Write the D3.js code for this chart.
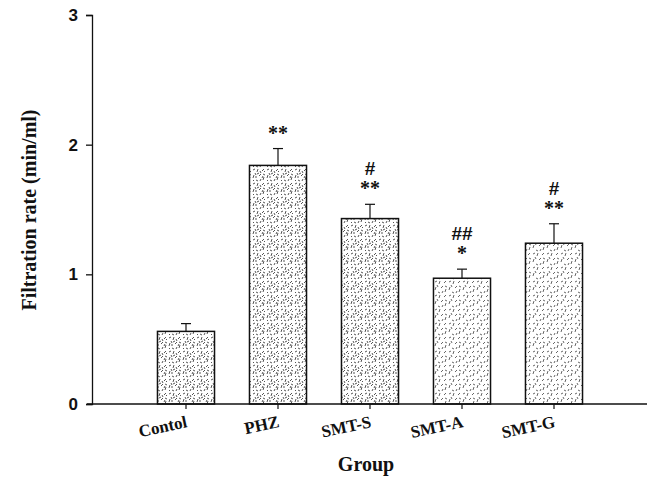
<!DOCTYPE html>
<html>
<head>
<meta charset="utf-8">
<script src="https://cdn.jsdelivr.net/npm/d3@7"></script>
<style>
  body { margin: 0; background: #fff; }
</style>
</head>
<body>
<div class="chart"></div>
<script>
const groups = ["Contol", "PHZ", "SMT-S", "SMT-A", "SMT-G"];
const means = [0.56, 1.84, 1.43, 0.97, 1.24];
const errors = [0.06, 0.13, 0.11, 0.07, 0.15];
const stars = ["", "**", "**", "*", "**"];
const hashes = ["", "", "#", "##", "#"];
const dense = [true, true, true, false, false];
const yTicks = [0, 1, 2, 3];

const width = 654, height = 479;
const svg = d3.select(".chart").append("svg")
    .attr("width", width)
    .attr("height", height);

// stipple textures
const defs = svg.append("defs");
const dashes = [[1,2,3,1],[6,1,5,4],[10,3,12,1],[2,7,1,10],[7,8,9,6],[12,9,11,12],[4,12,6,13],[9,11,8,13],[3,5,4,7],[11,6,13,7]];
const extra = [[5,6,7,5],[1,12,2,13],[8,3,9,5],[12,4,13,3],[3,9,5,9],[10,10,11,8]];

function makePattern(id, lines, color) {
  const pat = defs.append("pattern")
      .attr("id", id)
      .attr("patternUnits", "userSpaceOnUse")
      .attr("width", 14).attr("height", 14);
  pat.selectAll("line").data(lines).enter().append("line")
      .attr("x1", d => d[0]).attr("y1", d => d[1])
      .attr("x2", d => d[2]).attr("y2", d => d[3])
      .attr("stroke", color).attr("stroke-width", 1);
}
makePattern("stipDense", dashes.concat(extra), "#555");
makePattern("stipLight", dashes, "#666");

const x = d3.scaleBand()
    .domain(groups)
    .range([140, 600])
    .paddingInner(0.38)
    .paddingOuter(0.19);

const y = d3.scaleLinear()
    .domain([0, 3])
    .range([404, 15]);

// bars
svg.selectAll("rect.bar")
    .data(groups)
    .enter()
    .append("rect")
    .attr("class", "bar")
    .attr("x", d => x(d))
    .attr("y", (d, i) => y(means[i]))
    .attr("width", x.bandwidth())
    .attr("height", (d, i) => y(0) - y(means[i]))
    .attr("fill", (d, i) => dense[i] ? "url(#stipDense)" : "url(#stipLight)")
    .attr("stroke", "#111")
    .attr("stroke-width", 1.5);

// error bars
const eb = svg.selectAll("g.err")
    .data(groups)
    .enter()
    .append("g")
    .attr("class", "err");
eb.append("line")
    .attr("x1", d => x(d) + x.bandwidth() / 2)
    .attr("x2", d => x(d) + x.bandwidth() / 2)
    .attr("y1", (d, i) => y(means[i]))
    .attr("y2", (d, i) => y(means[i] + errors[i]))
    .attr("stroke", "#111").attr("stroke-width", 1.2);
eb.append("line")
    .attr("x1", d => x(d) + x.bandwidth() / 2 - 5)
    .attr("x2", d => x(d) + x.bandwidth() / 2 + 5)
    .attr("y1", (d, i) => y(means[i] + errors[i]))
    .attr("y2", (d, i) => y(means[i] + errors[i]))
    .attr("stroke", "#111").attr("stroke-width", 1.2);

// significance marks
svg.selectAll("text.star")
    .data(groups)
    .enter()
    .append("text")
    .attr("class", "star")
    .attr("x", d => x(d) + x.bandwidth() / 2)
    .attr("y", (d, i) => y(means[i] + errors[i]) - 9)
    .attr("text-anchor", "middle")
    .attr("font-family", "Liberation Serif, serif")
    .attr("font-weight", "bold")
    .attr("font-size", 20)
    .attr("fill", "#111")
    .text((d, i) => stars[i]);

svg.selectAll("text.hash")
    .data(groups)
    .enter()
    .append("text")
    .attr("class", "hash")
    .attr("x", d => x(d) + x.bandwidth() / 2)
    .attr("y", (d, i) => y(means[i] + errors[i]) - 29)
    .attr("text-anchor", "middle")
    .attr("font-family", "Liberation Sans, Arial, sans-serif")
    .attr("font-weight", "bold")
    .attr("font-size", 19)
    .attr("fill", "#111")
    .text((d, i) => hashes[i]);

// axes
const yAxis = d3.axisLeft(y).tickValues(yTicks).tickFormat(d3.format("d")).tickSize(6).tickPadding(8);
const yg = svg.append("g")
    .attr("transform", "translate(92,0)")
    .call(yAxis);
yg.select(".domain").attr("stroke", "#111").attr("stroke-width", 1.3);
yg.selectAll("line").attr("stroke", "#111").attr("stroke-width", 1.3);
yg.selectAll("text")
    .attr("font-family", "Liberation Sans, Arial, sans-serif")
    .attr("font-weight", "bold")
    .attr("font-size", 17)
    .attr("fill", "#111");

const xAxis = d3.axisBottom(x).tickSize(5).tickSizeOuter(0).tickFormat("");
const xg = svg.append("g")
    .attr("transform", "translate(0,404)")
    .call(xAxis);
xg.select(".domain").remove();
xg.selectAll("line").attr("stroke", "#111").attr("stroke-width", 1.2);
xg.append("line")
    .attr("x1", 87).attr("x2", 647)
    .attr("y1", 0).attr("y2", 0)
    .attr("stroke", "#111").attr("stroke-width", 1.3);

// rotated category labels, ending at the tick
svg.selectAll("text.cat")
    .data(groups)
    .enter()
    .append("text")
    .attr("class", "cat")
    .attr("transform", d => `translate(${x(d) + x.bandwidth() / 2 + 2},${427}) rotate(-12)`)
    .attr("text-anchor", "end")
    .attr("font-family", "Liberation Serif, serif")
    .attr("font-weight", "bold")
    .attr("font-size", 17)
    .attr("fill", "#111")
    .text(d => d);

// axis titles
svg.append("text")
    .attr("x", 366)
    .attr("y", 471)
    .attr("text-anchor", "middle")
    .attr("font-family", "Liberation Serif, serif")
    .attr("font-weight", "bold")
    .attr("font-size", 20)
    .attr("fill", "#111")
    .text("Group");

svg.append("text")
    .attr("transform", "translate(36,210) rotate(-90)")
    .attr("text-anchor", "middle")
    .attr("font-family", "Liberation Serif, serif")
    .attr("font-weight", "bold")
    .attr("font-size", 20)
    .attr("fill", "#111")
    .text("Filtration rate (min/ml)");
</script>
</body>
</html>
